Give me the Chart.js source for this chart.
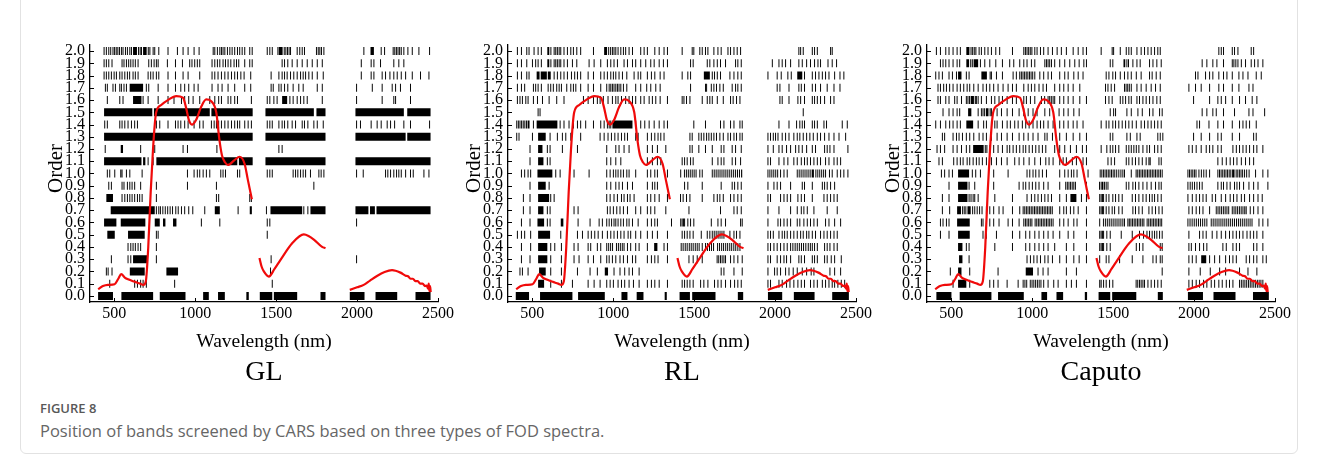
<!DOCTYPE html>
<html>
<head>
<meta charset="utf-8">
<script src="https://cdn.jsdelivr.net/npm/chart.js@4.4.1/dist/chart.umd.min.js"></script>
<style>
  body { margin: 0; background: #fff; width: 1319px; height: 466px; overflow: hidden; position: relative; font-family: 'Open Sans', sans-serif; }
  .frame { position: absolute; left: 20px; top: -1px; width: 1278px; height: 455px; border: 1px solid #e2e2e2; border-radius: 0 0 6px 6px; box-sizing: border-box; }
  .panel { position: absolute; top: 0; }
  .fig-label { position: absolute; left: 40px; top: 400px; font-size: 13px; line-height: 16px; font-weight: 600; color: #585858; }
  .fig-text { position: absolute; left: 40px; top: 420px; font-size: 16.5px; line-height: 22px; color: #666; }
</style>
</head>
<body>
<div class="frame"></div>
<canvas class="panel" id="p0" width="440" height="392" style="left:30px"></canvas>
<canvas class="panel" id="p1" width="440" height="392" style="left:448px"></canvas>
<canvas class="panel" id="p2" width="440" height="392" style="left:867px"></canvas>
<div class="fig-label">FIGURE 8</div>
<div class="fig-text">Position of bands screened by CARS based on three types of FOD spectra.</div>
<script>
const orderTicks = [0.0, 0.1, 0.2, 0.3, 0.4, 0.5, 0.6, 0.7, 0.8, 0.9, 1.0, 1.1, 1.2, 1.3, 1.4, 1.5, 1.6, 1.7, 1.8, 1.9, 2.0];
const wavelengthTicks = [500, 1000, 1500, 2000, 2500];
const panelTitles = ['GL', 'RL', 'Caputo'];

// reference spectrum (scaled), null = break between regions
const spectrumWl = [400, 430, 461, 502, 525, 543, 565, 585, 626, 660, 680, 695, 710, 725, 739, 750, 759, 790, 831, 883, 924, 945, 960, 980, 1006, 1037, 1068, 1099, 1130, 1150, 1165, 1185, 1202, 1243, 1274, 1305, 1325, 1350,
  1375,
  1397, 1410, 1424, 1455, 1490, 1527, 1599, 1671, 1700, 1733, 1784, 1805,
  1880,
  1955, 2000, 2041, 2080, 2123, 2170, 2216, 2268, 2300, 2315, 2330, 2345, 2360, 2375, 2390, 2405, 2420, 2430, 2438, 2443, 2447, 2451, 2455];
const spectrumVal = [0.055, 0.08, 0.09, 0.095, 0.14, 0.178, 0.15, 0.135, 0.115, 0.1, 0.09, 0.12, 0.4, 0.85, 1.19, 1.4, 1.5, 1.56, 1.6, 1.633, 1.62, 1.53, 1.44, 1.4, 1.44, 1.545, 1.605, 1.59, 1.5, 1.27, 1.15, 1.09, 1.07, 1.11, 1.137, 1.08, 0.95, 0.79,
  null,
  0.31, 0.24, 0.2, 0.158, 0.22, 0.294, 0.43, 0.503, 0.49, 0.46, 0.4, 0.39,
  null,
  0.049, 0.07, 0.09, 0.125, 0.163, 0.195, 0.21, 0.19, 0.165, 0.16, 0.14, 0.14, 0.12, 0.12, 0.1, 0.1, 0.08, 0.085, 0.06, 0.1, 0.04, 0.08, 0.03];

// selected bands per order (index 0 = 0.0 ... 20 = 2.0); number = one band, [a, b] = run of adjacent bands
const glBands = [
  [[400, 492], [544, 740], [781, 940], [1049, 1084], [1141, 1183], [1316, 1331], [1399, 1476], [1486, 1630], [1774, 1805], [1955, 2046], [2114, 2248], [2361, 2454]],
  [472, 626, 643, 663, 678, 698, 873, 1476],
  [451, 462, 486, [596, 688], [822, 894], 1465],
  [482, 585, 602, [616, 705], 760, 1469, 1997],
  [585, 602, 616, 630, 647, 663, 760],
  [[457, 503], [585, 688], 760, 771, 1445],
  [[437, 513], [540, 692], [750, 781], [801, 816], [863, 884], 1038, 1152, 1445, 1461, 1997],
  [[478, 750], 760, 775, 785, 800, 815, 830, 845, 860, 880, 895, 915, 935, 960, 985, 1008, 1059, [1121, 1152], 1265, [1337, 1350], 1440, [1465, 1661], 1671, 1696, [1712, 1805], [1990, 2070], [2080, 2110], [2120, 2454]],
  [[451, 492], 548, 565, 581, 596, 610, 626, 643, 657, 672, 760, 1131, 1145, 1337, 1347],
  [466, 482, 548, 560, 581, 596, 610, 626, 663, 760, 952, 1131, 1733],
  [457, 472, 503, 540, 548, 575, 596, 672, 952, 977, 993, 1013, 1028, 1049, 1069, 1090, 1158, 1172, 1187, 1261, 1275, 1445, 1461, 1476, 1605, 1620, 1634, 1651, 1667, 1682, 1712, 1764, 1778, 1795, 1997, 2038, 2083, 2176, 2190, 2207, 2227, 2244, 2258, 2273, 2300, 2330, 2347, 2413, 2444],
  [[437, 668], [678, 692], 709, 740, [760, 1260], [1270, 1355], [1434, 1805], [1990, 2454]],
  [[441, 447], [540, 554], 663, 750, 925, 952, [1131, 1137], 1517, 1527, 1537],
  [[437, 1355], [1434, 1805], [1990, 2300], [2310, 2454]],
  [441, 457, 534, 548, 565, 585, 606, 626, 643, 760, 781, 832, 878, 894, 911, 935, 956, 977, 993, 1008, 1028, 1049, 1100, 1117, 1131, 1145, 1162, 1183, 1203, 1224, 1244, 1261, 1275, 1306, 1327, 1347, 1445, 1461, 1476, 1496, 1517, 1537, 1552, 1572, 1599, 1620, 1661, 1675, 1696, 1733, 1754, 1774, 1791, 1997, 2021, 2087, 2124, 2149, 2186, 2207, 2232, 2289, 2330, 2361, 2448],
  [[437, 735], [745, 1090], [1100, 1355], [1434, 1733], [1749, 1805], [1990, 2289], [2310, 2454]],
  [457, 534, 554, [616, 668], 678, 709, 771, 832, 869, 915, 935, 960, 987, 1028, 1090, 1121, 1145, 1162, 1203, 1220, 1244, 1261, 1347, 1445, 1461, 1486, 1506, [1537, 1568], 1585, 1605, 1630, 1651, 1671, 1692, 1785, 1997, 2155, 2227, 2238, 2330],
  [445, 457, 492, 507, 534, 544, 560, 575, [595, 678], 698, 713, 771, 832, 878, 911, 935, 960, 993, 1018, 1104, 1141, 1166, 1203, 1244, 1306, 1323, 1343, 1469, 1482, 1517, 1531, 1552, 1572, 1605, 1640, 1667, 1754, 1785, 1997, 2094, 2155, 2217, 2238, 2268, 2330],
  [437, 451, 466, 482, 499, 513, 534, 548, 565, 581, 595, 616, 630, 647, 709, 725, 740, 760, 775, 832, 878, 925, 956, 977, 1008, 1028, 1104, 1121, 1141, 1162, 1183, 1203, 1224, 1244, 1261, 1282, 1302, 1323, 1343, 1469, 1517, 1537, 1552, 1568, 1589, 1609, 1630, 1651, 1667, 1682, 1702, 1723, 1754, 1774, 1791, 2026, 2087, 2104, 2155, 2176, 2203, 2227, 2248, 2273, 2300, 2341, 2392, 2444],
  [437, 451, 466, 486, 548, 560, 575, 589, 602, 616, 630, 647, 713, 729, 746, 760, 771, 828, 878, 921, 966, 980, 997, 1013, 1028, 1104, 1121, 1137, 1152, 1172, 1187, 1203, 1220, 1240, 1255, 1269, 1286, 1306, 1323, 1337, 1352, 1537, 1552, 1572, 1599, 1630, 1661, 1692, 1723, 1754, 1785, 2026, 2087, 2104, 2145, 2227, 2258, 2289, 2361],
  [437, 451, 466, 478, 492, 502, 512, 522, 532, 544, 554, 569, 581, 596, 606, [616, 640], 650, 660, 668, [678, 700], 710, 720, 730, 740, 750, 775, 832, 890, 925, 940, 956, 977, 993, 1008, 1024, 1111, 1121, 1137, 1152, 1162, 1172, 1183, 1199, 1214, 1228, 1244, 1261, 1275, 1290, 1306, 1323, 1337, 1352, 1445, 1461, 1476, 1496, 1511, [1517, 1540], 1550, 1560, 1570, 1580, 1589, 1630, 1646, 1661, 1675, 1749, 1760, 1770, 1780, 1795, 2042, [2083, 2104], 2149, 2170, 2223, 2233, 2243, 2253, 2263, 2273, 2289, 2314, 2341, 2382, 2448]
];

const rlBands = [
  [[398, 480], [548, 748], [783, 948], [1051, 1088], [1145, 1187], [1318, 1331], [1410, 1474], [1488, 1632], [1770, 1803], [1956, 2044], [2116, 2244], [2353, 2456]],
  [[536, 573], 614, 680, 748, 845, 882, 919, 960, 981, 1001, 1030, 1051, 1071, 1098, 1125, 1160, 1211, 1236, 1257, 1284, 1335, 1426, 1441, 1457, 1474, 1494, 1540, 1560, 1585, 1601, 1626, 1647, 1667, 1694, 1725, 1750, 1770, 1791, 1956, 1972, 2024, 2044, 2071, 2092, 2116, 2141, 2162, 2182, 2219, 2240, 2261, 2292, 2312, 2333, 2353, 2368, 2388, 2409, 2430],
  [424, 439, 474, [542, 583], 614, 680, 779, 857, 902, [948, 968], 1005, 1042, 1071, 1098, 1119, 1160, 1667, 1684, 1746, 1797, 1956, 1997, 2013, 2034, 2065, 2086, 2112, 2137, 2168, 2195, 2223, 2240, 2339, 2368, 2405],
  [433, 486, [536, 593], 614, 680, 758, 789, 845, 878, 923, 960, 975, 995, 1016, 1042, 1063, 1088, 1119, 1139, 1211, 1236, 1257, 1277, 1335, 1468, 1494, 1519, 1550, 1601, 1632, 1642, 1652, 1663, 1673, 1684, 1694, 1725, 1746, 1770, 1797, 1956, 1972, 2013, 2034, 2055, 2071, 2096, 2147, 2162, 2182, 2230, 2244, 2261, 2306, 2322, 2347, 2368, 2409],
  [433, 490, [536, 593], 614, 639, 680, 758, 783, 845, 861, 902, 923, 960, 972, 984, 996, 1008, 1020, 1032, 1044, 1056, 1067, 1088, 1108, 1139, 1160, 1211, [1253, 1273], 1314, 1335, 1420, 1432, 1445, 1457, 1470, 1482, 1494, 1507, 1519, 1531, 1550, 1570, 1582, 1595, 1607, 1620, 1632, 1645, 1657, 1670, 1682, 1695, 1707, 1720, 1732, 1745, 1757, 1770, 1783, 1956, 1972, 1993, 2013, 2034, 2055, 2075, 2096, 2110, 2124, 2137, 2150, 2163, 2176, 2190, 2205, 2218, 2230, 2244, 2261, 2306, 2322, 2339, 2364, 2384],
  [408, 433, 453, 490, [536, 610], 676, 779, 810, 845, 865, 886, 907, 933, 964, 985, 1005, 1026, 1047, 1067, 1092, 1108, 1139, 1170, 1211, 1242, 1273, 1335, 1426, 1441, 1457, 1474, 1494, 1544, 1564, 1581, 1597, 1612, 1624, 1636, 1648, 1660, 1672, 1684, 1700, 1721, 1746, 1762, 1783, 1956, 1972, 1989, 2024, 2044, 2059, 2075, 2096, 2116, 2137, 2158, 2174, 2195, 2209, 2230, 2250, 2281, 2302, 2322, 2343, 2364, 2384],
  [433, 486, [532, 573], 593, 610, [676, 692], 783, 857, 913, 933, 960, 975, 990, 1005, 1016, 1030, 1047, 1063, 1084, 1098, 1119, 1154, 1211, 1236, 1257, 1273, 1360, 1417, 1426, 1434, 1441, 1461, 1478, 1498, 1606, 1632, 1647, 1667, 1694, 1787, 1797, 1956, 2018, 2034, 2055, 2075, 2096, 2137, 2153, 2178, 2199, 2219, 2240, 2261, 2312, 2333, 2368, 2405],
  [445, 486, [536, 569], 593, 610, 758, 783, 964, 981, 1001, 1022, 1042, 1063, 1088, 1113, 1139, 1170, 1211, 1232, 1257, 1325, 1468, 1663, 1746, 1766, 1791, 1956, 2024, 2096, 2137, 2162, 2178, 2199, 2240, 2322, 2384],
  [445, 486, [536, 604], 614, 635, 960, 981, 1005, 1026, 1051, 1067, 1088, 1104, 1129, 1211, 1232, 1257, 1284, 1335, 1416, 1432, 1453, 1474, 1550, 1601, 1622, 1643, 1659, 1680, 1700, 1725, 1746, 1770, 1791, 1956, 1972, 2034, 2055, 2075, 2096, 2141, 2162, 2182, 2230, 2302, 2322, 2343, 2364, 2384],
  [486, [536, 583], 604, 960, 985, 1016, 1036, 1057, 1088, 1119, 1211, 1242, 1257, 1273, 1428, 1441, 1461, 1550, 1667, 1735, 1750, 1770, 1791, 1956, 1993, 2013, 2034, 2096, 2168, 2182, 2230, 2292, 2306, 2322, 2343, 2368],
  [433, 453, 474, 490, [532, 624], 645, 672, 758, 851, 960, 981, 1001, 1016, 1030, 1047, 1063, 1084, 1098, 1139, 1211, 1232, 1257, 1273, 1335, 1417, 1428, 1440, 1452, 1464, 1476, 1488, 1500, 1512, 1535, 1550, 1564, 1601, 1612, 1624, 1636, 1648, 1660, 1672, 1684, 1696, 1708, 1720, 1732, 1744, 1756, 1768, 1780, [1790, 1797], 1956, 1968, 1980, 1992, 2004, 2016, 2034, 2055, 2075, 2137, 2149, 2161, 2173, 2185, 2197, 2209, 2221, [2228, 2240], 2252, 2264, 2276, 2288, 2300, 2312, 2324, 2336, 2353, 2384, 2405, 2425, 2450],
  [486, [536, 569], 593, 610, 960, 985, 1016, 1047, 1211, 1242, 1273, 1294, 1426, 1441, 1457, 1478, 1494, 1612, 1632, 1647, 1667, 1684, 1700, 1735, 1756, 1787, 1956, 1972, 2024, 2055, 2079, 2116, 2137, 2162, 2182, 2199, 2219, 2240, 2261, 2281, 2312, 2333, 2364, 2384, 2405],
  [486, [536, 563], 593, 610, 686, 779, 960, 1016, 1036, 1067, 1098, 1211, 1242, 1273, 1325, 1474, 1488, 1529, 1570, 1612, 1667, 1684, 1735, 1756, 1791, 1956, 1989, 2024, 2044, 2071, 2096, 2127, 2147, 2168, 2195, 2230, 2250, 2306, 2322, 2339, 2364, 2450],
  [404, 418, 501, [536, 583], 610, 655, 686, 707, 738, 799, 919, 944, 968, 989, 1010, 1030, 1051, 1071, 1088, 1113, 1139, 1154, 1211, 1236, 1257, 1277, 1294, 1314, 1474, 1488, 1529, 1544, 1560, 1577, 1591, 1606, 1622, 1638, 1659, 1680, 1709, 1725, 1746, 1762, 1783, 1797, 1956, 1972, 1989, 2003, 2018, 2044, 2065, 2086, 2116, 2137, 2153, 2174, 2195, 2215, 2236, 2261, 2281, 2306, 2333, 2364, 2395, 2436],
  [404, 414, 424, 434, 444, 454, 464, 474, 480, 507, [527, 655], 672, 696, 727, 754, 779, 799, 830, 878, 923, 944, 964, 975, 985, [995, 1119], 1139, 1170, 1195, 1222, 1253, 1284, 1314, 1335, 1498, 1570, 1601, 1663, 1684, 1725, 1746, 1783, 1797, 2024, 2086, 2133, 2153, 2168, 2182, 2230, 2244, 2261, 2302, 2318, 2415, 2446],
  [536, 548, 2174],
  [408, 424, 439, 460, 474, 507, 532, 563, 604, 651, 696, 816, 845, 878, 902, 919, 939, 968, 995, 1016, 1030, 1051, 1077, 1098, 1119, 1139, 1170, 1191, 1222, 1242, 1263, 1290, 1335, 1426, 1437, 1453, 1474, 1550, 1564, 1581, 1597, 1612, 1643, 1680, 1725, 1741, 1762, 1783, 2030, 2044, 2086, 2141, 2158, 2182, 2230, 2244, 2261, 2281, 2306, 2343, 2364],
  [408, 433, 453, 507, 521, 536, 556, 598, 614, 630, 651, 666, 680, 713, 738, 754, 769, 799, 845, 878, 923, 960, 975, 985, 995, 1005, 1016, 1026, 1036, 1047, 1063, 1084, 1113, 1139, 1170, 1207, 1232, 1263, 1290, 1478, 1570, 1577, 1606, 1622, 1638, 1659, 1680, 1735, 1756, 1770, 1791, 2013, 2030, 2086, 2147, 2162, 2182, 2230, 2250, 2281, 2322, 2364, 2401],
  [408, 433, 466, 480, [527, 545], [552, 590], [596, 614], 635, 655, 676, 696, 717, 742, 762, 779, 799, 845, 878, 923, 944, 964, 985, 1001, 1016, 1036, 1057, 1084, 1113, 1129, 1154, 1170, 1211, 1236, 1257, 1290, 1314, 1426, 1461, 1478, [1560, 1597], 1612, 1626, 1643, 1663, 1721, 1746, 1770, 1791, 1956, 2013, 2038, 2079, 2100, [2137, 2168], 2182, 2230, 2250, 2271, 2292, 2312, 2333, 2368, 2401, 2425],
  [408, 433, 466, 501, 521, 536, 556, [593, 605], 615, 625, 635, 645, 655, 666, 676, 696, 717, 748, 775, 851, 882, 923, 964, 985, 1005, 1026, 1067, 1088, 1119, 1139, 1170, 1201, 1232, 1253, 1284, 1310, 1335, 1478, 1494, 1564, 1581, 1597, 1622, 1643, 1663, 1694, 1756, 1770, 1791, 1983, 2024, 2044, 2065, 2096, 2147, 2168, 2195, 2219, 2244, 2265, 2281, 2327, 2353, 2380],
  [408, 433, 466, 480, 511, 536, 556, [593, 605], 615, 625, 635, 645, 655, 666, 676, 696, 717, 738, 754, 775, 799, 878, [944, 962], 972, 984, 995, 1005, 1016, 1030, 1047, 1063, 1077, 1098, 1119, 1150, 1170, 1191, 1211, 1257, 1284, 1314, 1335, 1426, 1488, 1498, 1535, 1550, 1570, 1585, 1601, 1622, 1647, 1667, 1709, 1725, 1746, 1766, 1787, 2147, 2158, 2174, 2230, 2244, 2261, 2343, 2353]
];

const caputoBands = [
  [[408, 501], [552, 748], [789, 948], [1057, 1092], [1150, 1191], [1325, 1339], [1410, 1482], [1494, 1643], [1776, 1807], [1962, 2055], [2120, 2256], [2364, 2462]],
  [511, [542, 593], 614, 738, 762, 789, 845, 872, 913, 944, 955, 966, 977, 988, 999, 1010, 1021, 1032, 1043, 1054, 1071, 1098, 1133, 1160, 1211, 1242, 1273, 1335, 1417, 1426, 1441, 1457, 1478, 1498, 1632, 1642, 1652, 1663, 1673, 1684, 1694, 1715, 1735, 1756, 1776, 1797, 1968, 1989, 2013, 2034, 2059, 2079, 2106, 2127, 2153, 2174, 2199, 2219, 2240, 2281, 2292, 2303, 2314, 2325, 2336, 2347, 2358, 2369, 2380, 2391, 2402, 2413, 2425],
  [494, [542, 563], 614, 789, [960, 1005], 1036, 1067, 1098, 1211, 1273, 1700, 1803, 1968, 2038, 2100, 2158, 2195, 2281, 2333, 2388],
  [[548, 569], 610, 968, 989, 1010, 1030, 1051, 1078, 1098, 1125, 1170, 1211, 1257, 1290, 1335, 1417, 1457, 1474, 1540, 1618, 1684, 1746, 1766, 1791, 1803, 1968, 1989, 2013, [2044, 2075], 2096, 2127, 2158, 2195, 2219, 2240, 2261, 2322, 2343, 2368, 2388, 2425, 2446],
  [[542, 569], 593, 610, 769, 878, 960, 985, 1016, 1042, 1071, 1098, 1139, 1211, 1257, 1335, 1417, 1426, 1434, 1441, 1461, 1482, 1643, 1663, 1684, 1791, 1803, 1968, 1983, 2009, 2034, 2059, 2079, 2178, 2199, 2240, 2261, 2281, 2368, 2388, 2425],
  [433, 486, [542, 614], 696, 717, 779, 878, 923, 960, 985, 1016, 1042, 1071, 1098, 1129, 1170, 1222, 1257, 1335, 1417, 1426, 1434, 1441, 1461, 1482, 1550, 1564, 1618, 1663, 1688, 1709, 1725, 1741, 1756, 1770, 1787, 1803, 1968, 2034, 2055, 2075, 2112, 2141, 2168, 2195, 2219, 2240, 2261, 2281, 2302, 2327, 2347, 2368, 2388, 2425],
  [433, 449, 470, 486, [536, 614], 686, 696, 738, 762, 795, 851, 878, 919, 948, 958, 968, 978, 988, 998, 1008, 1018, 1028, 1038, 1048, 1058, 1068, 1078, 1088, 1098, 1108, 1118, 1129, 1150, 1170, 1195, 1222, 1257, 1277, 1335, 1417, 1428, 1440, 1452, 1464, 1476, 1488, 1500, 1512, 1524, 1536, 1548, 1560, 1570, 1591, 1600, 1610, 1620, 1630, 1640, 1650, 1660, 1670, 1680, 1690, 1700, 1710, 1720, 1730, 1740, 1750, 1760, 1770, 1780, 1790, 1800, 1962, 1975, 1988, 2001, 2014, 2027, 2040, 2053, 2066, 2079, 2106, 2118, 2130, 2142, 2154, 2166, 2178, 2190, 2202, 2214, 2226, 2238, 2250, 2262, 2274, 2286, 2298, 2310, 2322, 2334, 2346, 2358, 2401, 2425, 2456],
  [445, 490, [536, 560], 570, 580, 590, [600, 620], 632, 645, 660, 675, 690, 717, 738, 762, 795, 820, 878, 923, 944, 954, 964, 974, 984, 994, 1004, 1014, 1024, 1034, 1044, 1054, 1064, 1074, 1084, 1094, 1104, 1114, 1124, 1150, 1170, 1195, 1211, 1236, 1257, 1284, 1335, 1417, 1426, 1434, 1441, 1457, 1474, 1494, 1509, 1535, 1556, 1622, 1638, 1659, 1680, 1700, 1721, 1741, 1762, 1783, 1803, 1968, 1989, 2013, 2034, 2055, 2096, 2137, 2148, 2159, 2170, 2181, 2192, 2203, 2214, 2225, 2236, 2247, 2258, 2269, 2280, 2291, 2302, 2313, 2322, 2347, 2368, 2395, 2425],
  [445, 486, [542, 600], 610, 622, 635, 645, 666, 769, 878, 968, 995, 1016, 1036, 1057, 1078, 1098, 1119, 1170, 1211, [1236, 1273], 1304, 1335, 1417, 1426, 1434, 1441, 1457, 1474, 1498, 1515, 1535, 1556, 1601, 1618, 1638, 1659, 1684, 1704, 1725, 1741, 1756, 1776, 1797, 1962, 1989, 2013, 2034, 2055, 2075, 2112, 2133, 2168, 2195, 2223, 2244, 2265, 2292, 2312, 2343, 2368, 2395, 2421],
  [486, [542, 600], 610, 645, 762, 919, 944, 960, 981, 1001, 1022, 1042, 1071, 1098, 1170, 1207, 1217, 1227, 1237, 1247, 1257, 1267, 1335, 1416, 1426, 1434, 1437, 1447, 1457, 1468, 1564, 1581, 1597, 1622, 1638, 1659, 1684, 1709, 1735, 1762, 1783, 1797, 1962, 1976, 1989, 2003, 2018, 2034, 2050, 2147, 2168, 2182, 2203, 2223, 2250, 2265, 2281, 2306, 2339, 2368, 2395, 2456],
  [439, 459, 486, 507, [542, 610], 630, 651, 680, 762, 851, 968, 985, 1005, 1022, 1042, 1063, 1088, 1170, 1201, 1222, 1242, 1257, 1277, 1345, 1420, 1430, 1440, 1450, 1460, 1470, 1480, 1490, 1500, 1510, 1522, 1535, 1548, 1560, 1570, 1612, 1632, 1642, 1652, 1662, 1672, 1682, 1692, 1702, 1712, 1722, 1732, 1742, 1752, 1762, 1772, 1782, 1792, 1803, 1962, 1972, 1982, 1992, 2002, 2012, 2030, 2045, 2060, 2075, 2096, 2147, 2157, 2167, 2177, 2187, 2197, 2207, 2217, 2227, [2235, 2250], 2260, 2270, 2280, 2290, 2300, 2312, 2325, 2340, 2380, 2425, 2456],
  [424, 445, 515, 536, 556, 573, 598, 614, 635, 655, 672, 692, 717, 748, 779, 810, 845, 872, 892, 919, 948, 981, 1016, 1051, 1084, 1104, 1129, 1170, 1191, 1211, 1248, 1273, 1314, 1335, 1468, 1488, 1509, 1564, 1581, 1597, 1618, 1638, 1659, 1680, 1704, 1721, 1729, 1783, 1797, 2147, 2174, 2199, 2223, 2244, 2265, 2292, 2318, 2343, 2368],
  [412, 433, 459, 511, 536, 563, 593, 614, [635, 700], 710, 720, 730, 738, 762, 789, 816, 845, 861, 882, 902, 923, 944, 960, 981, 1001, 1022, 1042, 1063, 1084, 1113, 1139, 1170, 1201, 1236, 1273, 1310, 1335, 1426, 1461, 1482, 1498, 1515, 1535, 1564, 1581, 1597, 1612, 1628, 1643, 1659, 1684, 1709, 1725, 1756, 1776, 1797, 1968, 1989, 2013, 2044, 2075, 2096, 2116, 2147, 2168, 2240, 2261, 2281, 2302, 2322, 2343, 2368, 2388, 2425],
  [445, 459, 511, 532, 548, 569, 593, 614, 639, 672, 696, 717, 748, 783, 810, 845, 878, 919, 948, 975, 1005, 1036, 1078, 1092, 1125, 1170, 1211, 1253, 1294, 1335, 1482, 1498, 1564, 1585, 1606, 1632, 1647, 1667, 1776, 1791, 1807, 1997, 2044, 2096, 2147, 2168, 2236, 2281, 2368, 2384],
  [404, 433, 466, 490, 511, 536, 556, [593, 635], 666, 700, 717, 748, 769, 783, 816, 845, 865, 892, 913, 939, 960, 981, 1005, 1030, 1051, 1071, 1098, 1129, 1150, 1170, 1195, 1222, 1253, 1277, 1314, 1426, 1457, 1474, 1498, 1515, 1535, 1556, 1577, 1597, 1618, 1643, 1673, 1694, 1715, 1735, 1756, 1776, 1797, 2018, 2034, 2092, 2147, 2182, 2236, 2256, 2281, 2302, 2322, 2343, 2384],
  [449, 486, 511, 536, 552, [604, 624], 666, 686, 696, 706, [714, 730], 740, 748, 783, 810, 845, 878, 919, 948, 975, 1005, 1030, 1078, 1108, 1150, 1166, 1195, 1222, 1257, 1290, 1482, 1503, 1515, 1564, 1585, 1612, 1632, 1653, 1680, 1725, 1746, 1787, 1803, 2050, 2079, 2116, 2137, 2182, 2250, 2339, 2364, 2436],
  [418, 433, 466, 486, 521, 536, 563, 593, 603, 613, [620, 640], 648, 655, 666, 686, 717, 748, 769, 795, 816, 845, 878, 902, 948, 964, 989, 1016, 1057, 1077, 1098, 1108, 1118, 1129, 1139, 1170, 1195, 1222, 1253, 1294, 1335, 1453, 1474, 1494, 1544, 1560, 1577, 1597, 1612, 1632, 1647, 1663, 1684, 1704, 1725, 1746, 1770, 1791, 1997, 2096, 2147, 2168, 2195, 2236, 2256, 2281, 2318, 2359, 2388],
  [418, 433, 453, 470, 490, 511, 536, 556, 577, 598, 614, 639, 666, 696, 717, 738, 762, 789, 820, 851, 878, 902, 948, 975, 995, 1016, 1042, 1067, 1088, 1113, 1139, 1170, 1195, 1222, 1253, 1294, 1453, 1468, 1488, 1509, 1570, 1580, 1590, 1600, 1612, 1632, 1647, 1673, 1704, 1735, 1762, 1791, 1968, 2009, 2044, 2096, 2153, 2182, 2236, 2256, 2277, 2339, 2364],
  [404, 424, 445, 486, 507, 532, [542, 563], 593, 610, [686, 720], 730, 740, 748, 779, 816, 882, 902, 923, 933, 943, 953, 963, 973, 983, 993, 1003, 1016, 1047, 1071, 1098, 1119, 1150, 1170, 1201, 1222, 1257, 1284, 1314, 1457, 1474, 1498, 1515, 1544, 1570, 1591, 1612, 1643, 1673, 1725, 1741, 1766, 1791, 2009, 2024, 2071, 2096, 2116, 2153, 2182, 2203, 2236, 2256, 2277, 2302, 2333, 2384, 2415],
  [433, 449, 466, 486, 511, 536, 552, [593, 610], 620, 630, [638, 666], 680, 707, 738, 775, 816, 861, 886, 923, 948, 968, 995, 1016, 1078, 1088, 1098, 1108, 1119, 1139, 1170, 1201, 1232, 1263, 1290, 1319, 1335, 1482, 1498, [1564, 1575], 1585, 1595, 1601, 1622, 1647, 1667, 1700, 1725, 1746, 1770, 1797, 2050, 2079, 2116, 2141, 2182, 2236, 2246, 2258, 2271, 2292, 2318, 2353, 2374, 2395, 2425],
  [408, 433, 466, 486, 511, 536, 556, [593, 612], 622, 632, 642, 652, 662, 672, 686, 707, 727, 748, 775, 799, 878, 948, 958, 968, 978, 988, 998, 1008, 1016, 1030, 1051, 1071, 1098, 1125, 1154, 1180, 1211, 1253, 1284, 1314, 1335, 1426, 1494, 1503, 1544, 1564, 1581, 1597, 1612, 1632, 1647, 1673, 1694, 1715, 1735, 1756, 1776, 1791, 2153, 2168, 2182, 2236, 2250, 2271, 2353, 2368]
];

const panelBands = [glBands, rlBands, caputoBands];

function bandPoints(rows) {
  const pts = [];
  rows.forEach((row, i) => {
    const y = orderTicks[i];
    row.forEach((b) => {
      const [a, c] = Array.isArray(b) ? b : [b - 3, b + 3];
      pts.push({ x: a, y }, { x: c, y }, { x: c, y: null });
    });
  });
  return pts;
}

function spectrumPoints() {
  return spectrumWl.map((x, i) => ({ x, y: spectrumVal[i] }));
}

const serif = 'Liberation Serif';

// inward tick marks + rotated "Order" label
const axisExtras = {
  id: 'axisExtras',
  afterDraw(chart) {
    const { ctx, chartArea: a, scales: { x, y } } = chart;
    ctx.save();
    ctx.strokeStyle = '#000';
    ctx.lineWidth = 1;
    ctx.beginPath();
    wavelengthTicks.forEach((v) => {
      const px = Math.round(x.getPixelForValue(v)) + 0.5;
      ctx.moveTo(px, a.bottom);
      ctx.lineTo(px, a.bottom - 4);
    });
    orderTicks.forEach((v) => {
      const py = Math.round(y.getPixelForValue(v)) + 0.5;
      ctx.moveTo(a.left, py);
      ctx.lineTo(a.left + 4, py);
    });
    ctx.stroke();
    ctx.translate(26, (a.top + a.bottom) / 2 - 5);
    ctx.rotate(-Math.PI / 2);
    ctx.font = '21px "' + serif + '"';
    ctx.fillStyle = '#000';
    ctx.textAlign = 'center';
    ctx.textBaseline = 'middle';
    ctx.fillText('Order', 0, 0);
    ctx.restore();
  },
};

panelTitles.forEach((title, p) => {
  new Chart(document.getElementById('p' + p), {
    type: 'line',
    data: {
      datasets: [
        {
          data: spectrumPoints(),
          borderColor: 'rgb(240,10,10)',
          borderWidth: 2.2,
          pointRadius: 0,
          cubicInterpolationMode: 'monotone',
          spanGaps: false,
        },
        {
          data: bandPoints(panelBands[p]),
          borderColor: '#000',
          borderWidth: 8,
          borderCapStyle: 'butt',
          pointRadius: 0,
          tension: 0,
          spanGaps: false,
        },
      ],
    },
    options: {
      responsive: false,
      animation: false,
      events: [],
      layout: { padding: { left: 0, right: 32, top: 45, bottom: 2.7 } },
      plugins: {
        legend: { display: false },
        tooltip: { enabled: false },
        title: {
          display: true,
          position: 'bottom',
          fullSize: false,
          text: title,
          color: '#000',
          font: { family: serif, size: 28, weight: 'normal', lineHeight: 1.2 },
          padding: 0,
        },
      },
      scales: {
        x: {
          type: 'linear',
          min: 350,
          max: 2500,
          afterBuildTicks: (s) => { s.ticks = wavelengthTicks.map((v) => ({ value: v })); },
          afterFit: (s) => { s.height = 53.7; },
          grid: { display: false, drawTicks: false },
          border: { display: true, color: '#000', width: 1.3 },
          ticks: {
            color: '#000',
            padding: 2,
            autoSkip: false,
            maxRotation: 0,
            font: { family: serif, size: 16 },
            callback: (v) => String(v),
          },
          title: {
            display: true,
            text: 'Wavelength (nm)',
            color: '#000',
            font: { family: serif, size: 19.5, lineHeight: 1.2 },
            padding: { top: 0, bottom: 2 },
          },
        },
        y: {
          type: 'linear',
          min: -0.05,
          max: 2.05,
          afterBuildTicks: (s) => { s.ticks = orderTicks.map((v) => ({ value: v })); },
          afterFit: (s) => { s.width = 60; },
          grid: { display: false, drawTicks: false },
          border: { display: true, color: '#000', width: 1.3 },
          ticks: {
            color: '#000',
            padding: 5,
            autoSkip: false,
            font: { family: serif, size: 16 },
            callback: (v) => Number(v).toFixed(1),
          },
        },
      },
    },
    plugins: [axisExtras],
  });
});
</script>
</body>
</html>
